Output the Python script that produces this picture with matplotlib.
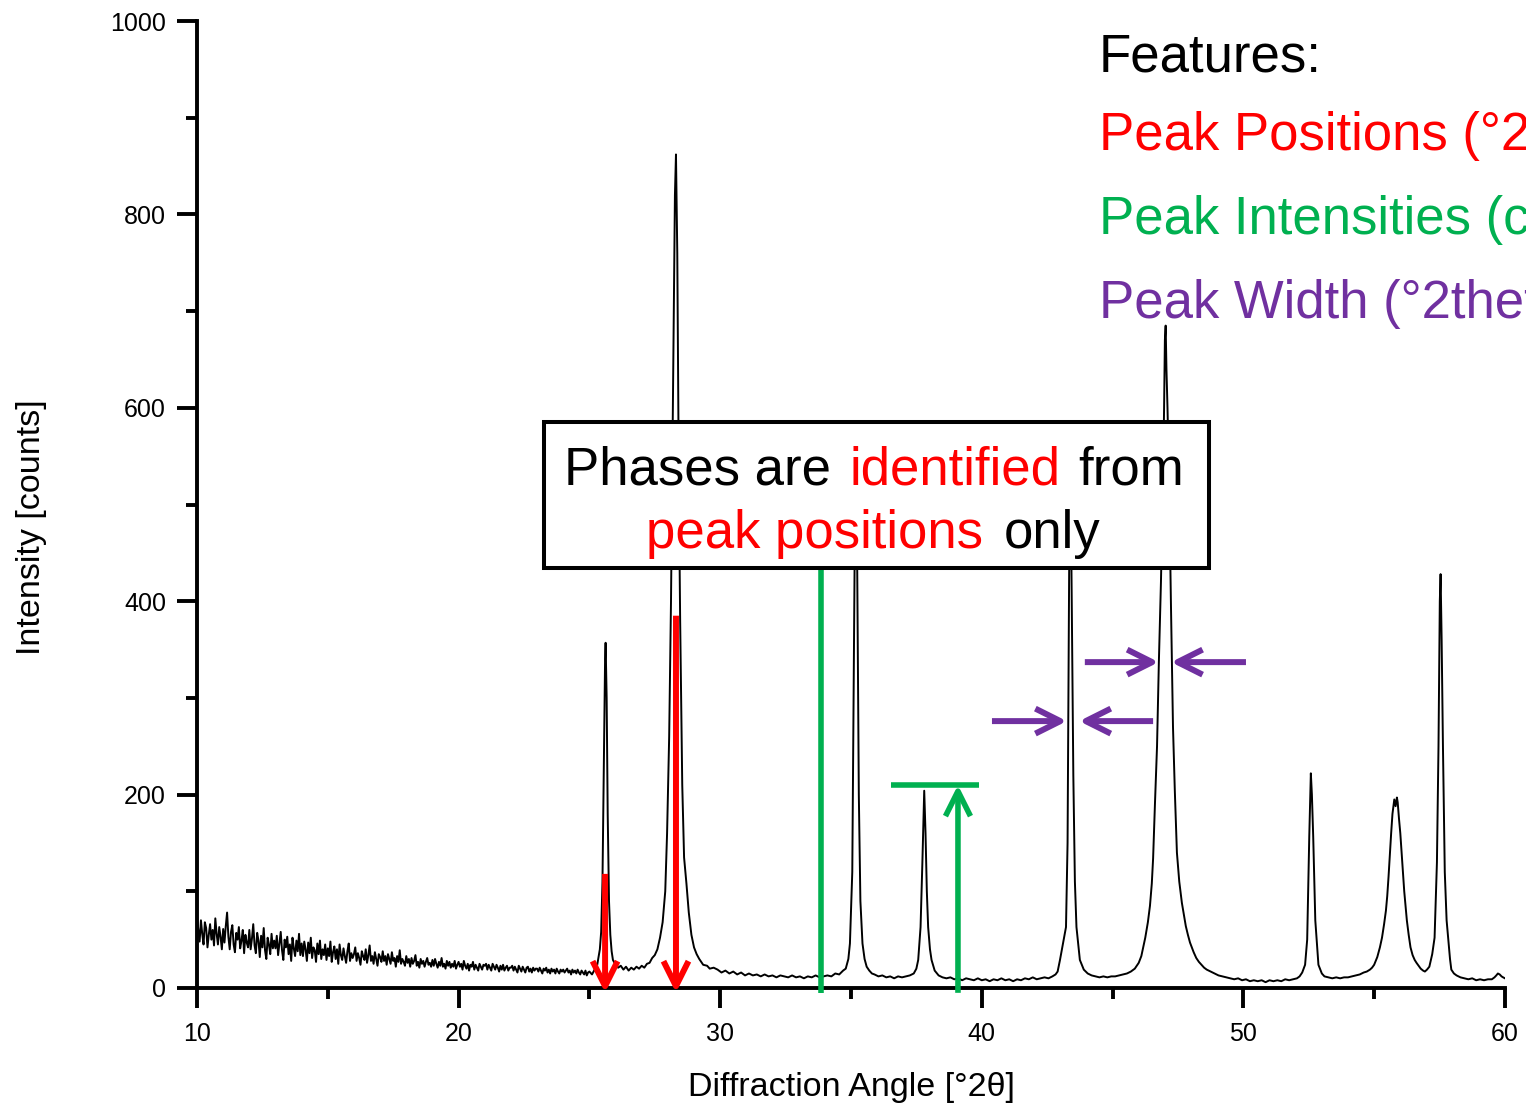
import matplotlib
matplotlib.use("Agg")
import matplotlib.pyplot as plt
import numpy as np
from matplotlib.patches import Rectangle

plt.rcParams['font.family'] = ['Liberation Sans', 'DejaVu Sans']

# ---------------- data ----------------
# noisy low-angle background, sampled every 0.05 deg from 10.00 to 25.00
noisy_start = 10.0
noisy_step = 0.05
noisy_counts = [
    74, 60, 48, 70, 56, 45, 68, 62, 42, 55, 66, 50, 60, 44, 72, 56, 45, 63, 53, 40,
    61, 47, 64, 78, 53, 40, 58, 65, 45, 37, 57, 50, 63, 41, 49, 60, 36, 55, 47, 42,
    60, 40, 51, 66, 44, 36, 57, 49, 32, 54, 42, 62, 39, 30, 52, 45, 35, 56, 41, 49,
    41, 54, 34, 46, 58, 39, 29, 50, 42, 53, 35, 45, 28, 52, 41, 33, 49, 38, 56, 34,
    46, 33, 48, 40, 28, 47, 36, 52, 31, 42, 39, 27, 46, 35, 49, 30, 40, 34, 45, 29,
    41, 33, 48, 27, 37, 43, 30, 40, 25, 45, 34, 29, 41, 33, 26, 38, 46, 28, 36, 31,
    35, 42, 28, 36, 31, 24, 38, 33, 29, 40, 26, 34, 44, 28, 33, 25, 37, 30, 23, 35,
    32, 27, 38, 28, 33, 24, 35, 30, 25, 37, 28, 31, 22, 33, 27, 39, 25, 30, 27, 23,
    33, 26, 30, 22, 31, 25, 28, 34, 23, 27, 21, 30, 25, 28, 22, 27, 31, 24, 26, 22,
    29, 23, 30, 25, 21, 27, 23, 31, 22, 25, 20, 28, 23, 27, 21, 25, 22, 28, 20, 24,
    27, 22, 25, 19, 28, 23, 20, 25, 18, 24, 22, 27, 19, 24, 21, 18, 25, 22, 19, 24,
    23, 25, 19, 24, 21, 18, 25, 22, 19, 24, 21, 17, 23, 19, 24, 18, 21, 23, 18, 21,
    21, 23, 18, 22, 19, 16, 23, 20, 17, 22, 19, 16, 21, 22, 17, 20, 16, 21, 18, 20,
    20, 17, 21, 18, 15, 20, 18, 21, 16, 19, 15, 20, 17, 19, 15, 20, 17, 15, 19, 17,
    19, 16, 18, 20, 16, 18, 14, 19, 16, 18, 15, 19, 16, 14, 18, 16, 14, 18, 13, 16,
    17,
]

# peak region: (angle, counts) pairs
peak_profile = [
    (25.1, 14), (25.2, 19), (25.3, 24), (25.4, 40), (25.45, 58), (25.5, 110), (25.55, 230),
    (25.6, 340), (25.62, 357), (25.66, 300), (25.7, 180), (25.75, 90), (25.8, 55), (25.85, 38),
    (25.9, 29), (26.0, 24), (26.1, 21), (26.2, 23), (26.3, 19), (26.4, 22), (26.5, 18),
    (26.6, 21), (26.7, 19), (26.8, 22), (26.9, 20), (27.0, 23), (27.1, 21), (27.2, 25),
    (27.3, 26), (27.4, 31), (27.5, 34), (27.6, 40), (27.7, 52), (27.8, 68), (27.9, 100),
    (27.97, 160), (28.05, 260), (28.12, 400), (28.2, 620), (28.27, 820), (28.31, 862),
    (28.36, 760), (28.42, 520), (28.47, 380), (28.55, 210), (28.62, 135), (28.71, 108),
    (28.8, 78), (28.9, 55), (29.0, 42), (29.1, 35), (29.2, 30), (29.35, 24), (29.5, 23),
    (29.6, 20), (29.75, 21), (29.9, 19), (30.05, 16), (30.2, 18), (30.35, 15), (30.5, 17),
    (30.65, 14), (30.8, 16), (30.95, 13), (31.1, 15), (31.25, 13), (31.4, 14), (31.55, 12),
    (31.7, 14), (31.85, 12), (32.0, 13), (32.15, 11), (32.3, 13), (32.45, 12), (32.6, 11),
    (32.75, 13), (32.9, 11), (33.05, 12), (33.2, 10), (33.35, 12), (33.5, 11), (33.65, 13),
    (33.8, 11), (33.95, 12), (34.1, 13), (34.25, 12), (34.4, 15), (34.55, 14), (34.7, 18),
    (34.8, 20), (34.9, 30), (34.96, 46), (35.05, 120), (35.1, 300), (35.15, 480), (35.19, 520),
    (35.24, 430), (35.3, 200), (35.36, 90), (35.44, 46), (35.52, 30), (35.6, 22), (35.7, 18),
    (35.8, 15), (35.9, 14), (36.05, 12), (36.2, 13), (36.35, 11), (36.5, 12), (36.65, 10),
    (36.8, 12), (36.95, 11), (37.1, 12), (37.25, 13), (37.4, 15), (37.5, 20), (37.57, 29),
    (37.66, 63), (37.73, 130), (37.8, 204), (37.85, 160), (37.9, 100), (37.95, 63),
    (38.02, 40), (38.08, 29), (38.2, 18), (38.35, 13), (38.5, 11), (38.65, 10), (38.8, 11),
    (38.95, 9), (39.1, 10), (39.25, 8), (39.4, 10), (39.55, 9), (39.7, 8), (39.85, 10),
    (40.0, 8), (40.15, 9), (40.3, 7), (40.45, 9), (40.6, 8), (40.75, 10), (40.9, 8),
    (41.05, 9), (41.2, 7), (41.35, 9), (41.5, 8), (41.65, 10), (41.8, 9), (41.95, 11),
    (42.1, 9), (42.25, 10), (42.4, 11), (42.55, 10), (42.7, 12), (42.82, 14), (42.9, 17),
    (42.99, 29), (43.1, 45), (43.22, 63), (43.28, 150), (43.34, 429), (43.39, 530),
    (43.43, 429), (43.5, 220), (43.56, 110), (43.62, 63), (43.75, 29), (43.9, 19),
    (44.05, 15), (44.2, 13), (44.35, 12), (44.5, 11), (44.65, 12), (44.8, 11), (44.95, 12),
    (45.1, 12), (45.25, 13), (45.4, 14), (45.55, 15), (45.7, 17), (45.85, 20), (46.0, 26),
    (46.1, 33), (46.17, 42), (46.25, 52), (46.35, 68), (46.43, 85), (46.5, 108),
    (46.55, 134), (46.62, 190), (46.7, 250), (46.77, 337), (46.85, 420), (46.93, 526),
    (46.97, 600), (47.0, 670), (47.03, 685), (47.06, 640), (47.1, 600), (47.16, 526),
    (47.23, 400), (47.27, 337), (47.31, 270), (47.38, 204), (47.46, 140), (47.55, 110),
    (47.65, 88), (47.73, 75), (47.8, 64), (47.88, 55), (47.96, 47), (48.1, 37), (48.2, 31),
    (48.3, 27), (48.4, 24), (48.5, 21), (48.6, 19), (48.75, 17), (48.9, 15), (49.05, 13),
    (49.2, 12), (49.35, 11), (49.5, 10), (49.65, 9), (49.8, 10), (49.95, 8), (50.1, 9),
    (50.25, 7), (50.4, 8), (50.55, 7), (50.7, 8), (50.85, 6), (51.0, 8), (51.15, 7),
    (51.3, 8), (51.45, 7), (51.6, 9), (51.75, 8), (51.9, 9), (52.05, 10), (52.15, 12),
    (52.25, 16), (52.36, 24), (52.44, 50), (52.52, 157), (52.58, 222), (52.62, 200),
    (52.67, 157), (52.75, 70), (52.87, 24), (53.0, 15), (53.1, 12), (53.25, 11), (53.4, 10),
    (53.55, 11), (53.7, 10), (53.85, 11), (54.0, 11), (54.15, 12), (54.3, 13), (54.45, 14),
    (54.6, 16), (54.72, 17), (54.84, 19), (54.92, 21), (55.0, 24), (55.12, 32), (55.22, 42),
    (55.3, 52), (55.38, 66), (55.45, 80), (55.5, 95), (55.55, 115), (55.6, 138),
    (55.65, 160), (55.7, 180), (55.77, 195), (55.82, 188), (55.87, 197), (55.9, 192),
    (55.95, 175), (56.0, 160), (56.05, 140), (56.1, 120), (56.15, 100), (56.2, 85),
    (56.25, 70), (56.32, 55), (56.39, 42), (56.47, 34), (56.55, 29), (56.62, 26),
    (56.7, 23), (56.78, 20), (56.87, 18), (56.94, 17), (57.02, 19), (57.11, 22), (57.22, 35),
    (57.31, 52), (57.4, 130), (57.46, 250), (57.51, 400), (57.54, 428), (57.58, 360),
    (57.63, 250), (57.7, 120), (57.77, 70), (57.83, 52), (57.9, 30), (57.95, 19), (58.05, 15),
    (58.15, 13), (58.3, 11), (58.45, 10), (58.6, 9), (58.75, 10), (58.9, 8), (59.05, 9),
    (59.2, 8), (59.35, 9), (59.5, 9), (59.6, 11), (59.67, 13), (59.73, 15), (59.8, 14),
    (59.87, 12), (59.93, 11), (60.0, 10),
]

x_ticks = [10, 20, 30, 40, 50, 60]
y_ticks = [0, 200, 400, 600, 800, 1000]

# annotation marks (data coordinates)
red_arrow_x = [25.6, 28.31]
red_arrow_top = [118, 385]
green_line_x = 33.85
green_bar_x = [36.53, 39.89]
green_bar_y = 210
green_arrow_x = 39.09
purple_rows_y = [337, 276]
purple_right_arrows = [(43.94, 46.77), (40.39, 43.26)]   # (tail, tip)
purple_left_arrows = [(50.10, 47.23), (46.55, 43.72)]    # (tail, tip)
box_x = [23.26, 48.68]
box_y = [434, 585]

RED = '#FF0000'
GREEN = '#00B050'
PURPLE = '#7030A0'

# ---------------- figure ----------------
fig = plt.figure(figsize=(15.26, 11.06), dpi=100)
ax = fig.add_axes([0.1291, 0.1067, 0.8571, 0.8743])

peak_angles = [p[0] for p in peak_profile]
peak_counts = [p[1] for p in peak_profile]
two_theta = np.concatenate([
    np.round(noisy_start + noisy_step * np.arange(len(noisy_counts)), 2),
    np.array(peak_angles)])
counts = np.concatenate([np.array(noisy_counts), np.array(peak_counts)])

ax.plot(two_theta, counts, color='black', lw=1.4, zorder=2, solid_joinstyle='round')

ax.set_xlim(10, 60)
ax.set_ylim(0, 1000)
ax.set_xticks(x_ticks)
ax.set_xticks([15, 25, 35, 45, 55], minor=True)
ax.set_yticks(y_ticks)
ax.set_yticks([100, 300, 500, 700, 900], minor=True)

for s in ['top', 'right']:
    ax.spines[s].set_visible(False)
for s in ['left', 'bottom']:
    ax.spines[s].set_linewidth(2.8)

ax.tick_params(which='major', direction='out', length=14.4, width=2.8,
               labelsize=18, pad=8)
ax.tick_params(which='minor', direction='out', length=8, width=2.8)
ax.tick_params(axis='x', which='major', pad=10)

ax.set_xlabel('Diffraction Angle [°2θ]', fontsize=24.5)
ax.set_ylabel('Intensity [counts]', fontsize=24.5)
ax.xaxis.set_label_coords(0.5, -0.087)
ax.yaxis.set_label_coords(-0.1147, 0.4767)

arrow_kw = dict(arrowstyle='->,head_length=0.9,head_width=0.45',
                mutation_scale=20, shrinkA=0, shrinkB=0,
                joinstyle='round', capstyle='butt')

# red arrows (peak positions)
for xr, top in zip(red_arrow_x, red_arrow_top):
    ax.annotate('', xy=(xr, -5), xytext=(xr, top),
                arrowprops=dict(color=RED, lw=4.3, **arrow_kw),
                annotation_clip=False, zorder=4)

# green marks (peak intensities)
ax.plot([green_line_x, green_line_x], [-5, 500], color=GREEN, lw=4.0,
        solid_capstyle='butt', clip_on=False, zorder=3)
ax.plot(green_bar_x, [green_bar_y, green_bar_y], color=GREEN, lw=4.0,
        solid_capstyle='butt', zorder=3)
ax.annotate('', xy=(green_arrow_x, green_bar_y), xytext=(green_arrow_x, -5),
            arrowprops=dict(color=GREEN, lw=4.0, **arrow_kw),
            annotation_clip=False, zorder=3)

# purple arrows (peak width)
for yrow, (t1, h1), (t2, h2) in zip(purple_rows_y, purple_right_arrows, purple_left_arrows):
    for tail, tip in [(t1, h1), (t2, h2)]:
        ax.annotate('', xy=(tip, yrow), xytext=(tail, yrow),
                    arrowprops=dict(color=PURPLE, lw=4.3, **arrow_kw),
                    annotation_clip=False, zorder=4)

# boxed statement
ax.add_patch(Rectangle((box_x[0], box_y[0]), box_x[1] - box_x[0], box_y[1] - box_y[0],
                       facecolor='white', edgecolor='black', lw=2.9, zorder=6,
                       clip_on=False))
fs_box = 38
line1 = [('Phases are', 'black', 24.03), ('identified', RED, 34.95), ('from', 'black', 43.70)]
line2 = [('peak positions', RED, 27.18), ('only', 'black', 40.85)]
for pieces, yb in [(line1, 521), (line2, 455)]:
    for txt, col, xs in pieces:
        ax.text(xs, yb, txt, color=col, fontsize=fs_box, ha='left', va='baseline',
                zorder=7)

# features list at the top right (runs past the figure edge, as in the source)
features = [('Features:', 'black', 0.9352),
            ('Peak Positions (°2theta)', RED, 0.8644),
            ('Peak Intensities (counts)', GREEN, 0.7882),
            ('Peak Width (°2theta)', PURPLE, 0.7127)]
for txt, col, yb in features:
    fig.text(0.7201, yb, txt, color=col, fontsize=38, ha='left', va='baseline')

fig.savefig('out.png', dpi=100)
